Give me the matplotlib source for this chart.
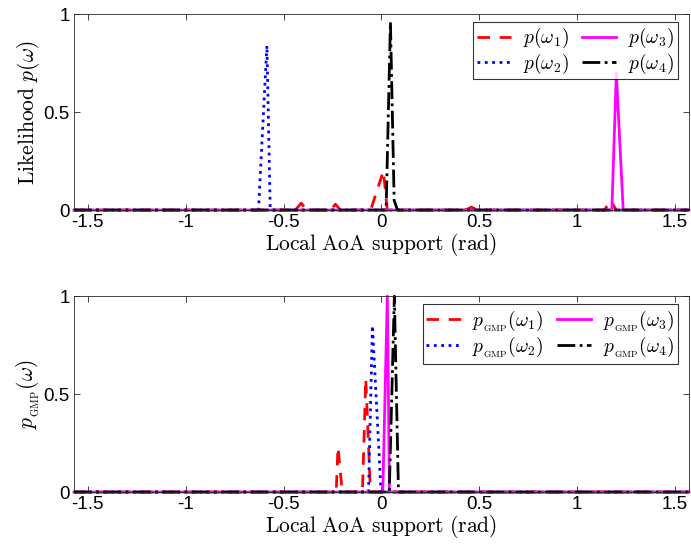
import numpy as np
import matplotlib
matplotlib.use("Agg")
import matplotlib.pyplot as plt

plt.rcParams['font.family'] = ['Liberation Sans', 'DejaVu Sans']
plt.rcParams['mathtext.fontset'] = 'cm'

HP = np.pi / 2

# Top panel: likelihood p(omega), support points (rad) and values
w1_x = [-HP, -0.44, -0.41, -0.38, -0.26, -0.235, -0.21, -0.055, 0.01, 0.03, 0.43, 0.46, 0.49, 1.14, 1.17, 1.20, HP]
w1_y = [0, 0, 0.035, 0, 0, 0.03, 0, 0, 0.20, 0, 0, 0.015, 0, 0, 0.05, 0, 0]
w2_x = [-HP, -0.628, -0.585, -0.568, HP]
w2_y = [0, 0, 0.84, 0, 0]
w3_x = [-HP, 1.177, 1.20, 1.235, HP]
w3_y = [0, 0, 0.70, 0, 0]
w4_x = [-HP, 0.024, 0.046, 0.065, 0.082, HP]
w4_y = [0, 0, 0.96, 0.05, 0, 0]

# Bottom panel: GMP output
g1_x = [-HP, -0.231, -0.222, -0.20, -0.097, -0.08, -0.056, HP]
g1_y = [0, 0, 0.23, 0, 0, 0.58, 0, 0]
g2_x = [-HP, -0.066, -0.046, -0.002, HP]
g2_y = [0, 0, 0.85, 0, 0]
g3_x = [-HP, 0.007, 0.03, 0.041, HP]
g3_y = [0, 0, 1.0, 0, 0]
g4_x = [-HP, 0.04, 0.066, 0.087, HP]
g4_y = [0, 0, 1.0, 0, 0]

xticks = [-1.5, -1, -0.5, 0, 0.5, 1, 1.5]
yticks = [0, 0.5, 1]

styles = [
    dict(color='red', linestyle=(0, (4.5, 3.5))),
    dict(color='blue', linestyle=':'),
    dict(color='magenta', linestyle='-'),
    dict(color='black', linestyle='-.'),
]

GMP = r'{}_{\mathrm{GMP}}'


def draw(ax, series, labels, ylabel):
    for (x, y), st, lab in zip(series, styles, labels):
        ax.plot(x, y, linewidth=2, label=lab, clip_on=False, **st)
    ax.set_xlim(-HP, HP)
    ax.set_ylim(0, 1)
    ax.set_xticks(xticks)
    ax.set_xticklabels(['-1.5', '-1', '-0.5', '0', '0.5', '1', '1.5'])
    ax.set_yticks(yticks)
    ax.set_yticklabels(['0', '0.5', '1'])
    ax.tick_params(direction='in', length=4, top=True, right=True,
                   labelsize=13.5, width=0.6, color='#262626', pad=3)
    for sp in ax.spines.values():
        sp.set_linewidth(0.6)
        sp.set_color('#262626')
    ax.set_xlabel(r'$\mathrm{Local\ AoA\ support\ (rad)}$', fontsize=15.5, labelpad=0)
    ax.set_ylabel(ylabel, fontsize=15.5, labelpad=1)
    leg = ax.legend(ncol=2, loc='upper right', fontsize=14, frameon=True,
                    fancybox=False, edgecolor='black', handlelength=1.75,
                    handletextpad=0.6, columnspacing=0.7, borderpad=0.2,
                    labelspacing=0.05, borderaxespad=0,
                    bbox_to_anchor=(0.982, 0.958))
    leg.get_frame().set_linewidth(0.8)


fig = plt.figure(figsize=(6.91, 5.47), dpi=100)
ax1 = fig.add_axes([0.107, 0.616, 0.890, 0.358])
ax2 = fig.add_axes([0.107, 0.1005, 0.890, 0.358])

draw(ax1, [(w1_x, w1_y), (w2_x, w2_y), (w3_x, w3_y), (w4_x, w4_y)],
     [r'$p(\omega_1)$', r'$p(\omega_2)$', r'$p(\omega_3)$', r'$p(\omega_4)$'],
     r'$\mathrm{Likelihood}\ p(\omega)$')
draw(ax2, [(g1_x, g1_y), (g2_x, g2_y), (g3_x, g3_y), (g4_x, g4_y)],
     [r'$p_{%s}(\omega_1)$' % GMP, r'$p_{%s}(\omega_2)$' % GMP,
      r'$p_{%s}(\omega_3)$' % GMP, r'$p_{%s}(\omega_4)$' % GMP],
     r'$p_{%s}(\omega)$' % GMP)

fig.savefig('out.png', dpi=100)
